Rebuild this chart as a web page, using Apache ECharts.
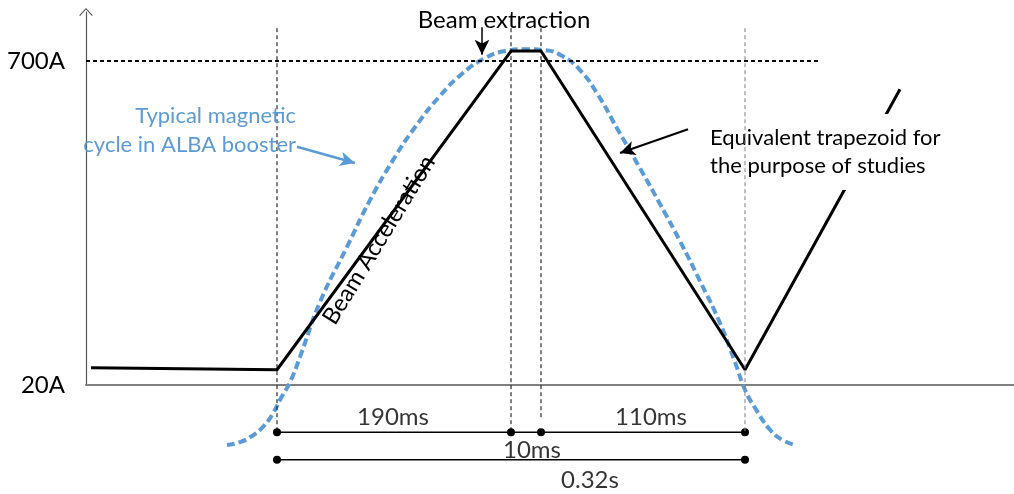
<!DOCTYPE html>
<html>
<head>
<meta charset="utf-8">
<script src="https://cdn.jsdelivr.net/npm/echarts@6/dist/echarts.min.js"></script>
<style>
html,body{margin:0;padding:0;background:#fff;}
#chart{width:1014px;height:494px;}
</style>
</head>
<body>
<div id="chart"></div>
<script>
// ---- data (time in arbitrary diagram units, current in A) ----
const yTickValues = [20, 700];
const trapezoidPoints = [[5,56],[191,52],[425,721],[455,721],[659,52],[814,641]];
const cyclePoints = [
  [141,-106],[154,-100],[166,-87],[177,-68],[186,-43],[194,-11],[204,26],[214,79],
  [234,194],[261,310],[284,408],[307,492],[329,561],[354,627],[377,675],[399,706],
  [419,721],[441,725],[459,723],[476,711],[494,681],[512,629],[531,559],[554,475],
  [574,400],[594,322],[614,238],[634,150],[649,68],[659,10],[669,-28],[684,-74],
  [696,-95],[709,-106]
];
const phaseTimes = [191, 425, 455, 659];
const guideTop = 769;
const guideBottoms = [-79, -79, -53, -79];
const flatTopLevel = 700;
const flatTopEnd = 733;
const dimLevel1 = -79;
const dimLevel2 = -137;
const dimLabels = [
  {name:'190ms', value:[307,-47]},
  {name:'110ms', value:[565,-47]},
  {name:'10ms',  value:[446,-116]},
  {name:'0.32s', value:[504,-179]}
];
const extractionArrow = [[396,771],[396,713]];
const cycleArrow = [[211,520],[269,486]];
const trapezoidArrow = [[602,557],[534,507]];

const FONT = 'Lato';
const BLUE = '#5b9bd5';

const chart = echarts.init(document.getElementById('chart'), null, {renderer:'canvas'});

const guideSeries = phaseTimes.map((t, i) => ({
  name: 'guide' + i, type: 'line', clip: false, z: 5, showSymbol: false, silent: true,
  data: [[t, guideTop], [t, guideBottoms[i]]],
  lineStyle: {color: i === 3 ? '#7f7f7f' : '#000', width: 1, type: [4, 3]}
}));

function arrow(pts, color, width) {
  return [{coord: pts[0], lineStyle:{color: color, width: width, type:'solid'}}, {coord: pts[1]}];
}

const option = {
  animation: false,
  backgroundColor: '#fff',
  grid: {left: 86, right: 0, top: 12, bottom: 109},
  xAxis: {
    type: 'value', min: 0, max: 928,
    axisLine: {lineStyle: {color: '#808080', width: 2}},
    axisTick: {show: false}, axisLabel: {show: false}, splitLine: {show: false}
  },
  yAxis: {
    type: 'value', min: 20, max: 803,
    axisLine: {show: true, lineStyle: {color: '#555', width: 1.2},
      symbol: ['none', 'path://M0,8 L7.5,0 L15,8 L14,8.8 L7.5,1.6 L1,8.8 Z'],
      symbolSize: [15, 8]},
    axisTick: {show: false},
    splitLine: {show: false},
    axisLabel: {
      customValues: yTickValues,
      formatter: v => v + 'A',
      margin: 21, color: '#000', fontFamily: FONT, fontSize: 24
    }
  },
  graphic: [
    {type:'text', x: 504, y: 20, z: 10,
     style:{text:'Beam extraction', align:'center', verticalAlign:'middle',
       font: '24px ' + FONT, fill:'#000'}},
    {type:'text', x: 296, y: 130, z: 10,
     style:{text:'Typical magnetic\ncycle in ALBA booster', align:'right', verticalAlign:'middle',
       font: '22px ' + FONT, fill: BLUE, lineHeight: 29}},
    {type:'text', x: 703, y: 152, z: 3,
     style:{text:'Equivalent trapezoid for\nthe purpose of studies', align:'left', verticalAlign:'middle',
       font: '22px ' + FONT, fill:'#000', lineHeight: 28,
       backgroundColor:'#fff', padding:[16, 12, 4, 7]}},
    {type:'text', x: 379, y: 240, z: 10, rotation: 58.5 * Math.PI / 180,
     style:{text:'Beam Acceleration', align:'center', verticalAlign:'middle',
       font: '23.5px ' + FONT, fill:'#000'}}
  ],
  series: [
    {
      name: 'cycle', type: 'line', data: cyclePoints, smooth: 0.5,
      showSymbol: false, clip: false, z: 1,
      lineStyle: {color: BLUE, width: 4, type: [8, 4]}
    },
    {
      name: 'trapezoid', type: 'line', data: trapezoidPoints, showSymbol: false,
      clip: false, z: 2,
      lineStyle: {color: '#000', width: 3}
    },
    {
      name: 'dim1', type: 'line', clip: false, z: 4,
      data: phaseTimes.map(t => [t, dimLevel1]),
      symbol: 'circle', symbolSize: 8, showSymbol: true,
      itemStyle: {color: '#000'}, lineStyle: {color: '#000', width: 1.5}
    },
    {
      name: 'dim2', type: 'line', clip: false, z: 4,
      data: [[phaseTimes[0], dimLevel2], [phaseTimes[3], dimLevel2]],
      symbol: 'circle', symbolSize: 8, showSymbol: true,
      itemStyle: {color: '#000'}, lineStyle: {color: '#000', width: 1.5}
    },
    {
      name: 'dimLabels', type: 'scatter', clip: false, z: 4,
      data: dimLabels, symbolSize: 0,
      label: {show: true, position: 'inside', formatter: '{b}', color: '#000',
        fontFamily: FONT, fontSize: 24}
    },
    {
      name: 'flatTop', type: 'line', clip: false, z: 5, showSymbol: false, silent: true,
      data: [[0, flatTopLevel], [flatTopEnd, flatTopLevel]],
      lineStyle: {color: '#000', width: 2, type: [4, 3]}
    },
    {
      name: 'arrows', type: 'line', data: [], clip: false, z: 6,
      markLine: {
        silent: true, symbol: ['none', 'arrow'], symbolSize: [11, 15], animation: false,
        label: {show: false},
        data: [
          arrow(extractionArrow, '#000', 1.5),
          arrow(cycleArrow, BLUE, 2.5),
          arrow(trapezoidArrow, '#000', 2)
        ]
      }
    }
  ].concat(guideSeries)
};
chart.setOption(option);
</script>
</body>
</html>
